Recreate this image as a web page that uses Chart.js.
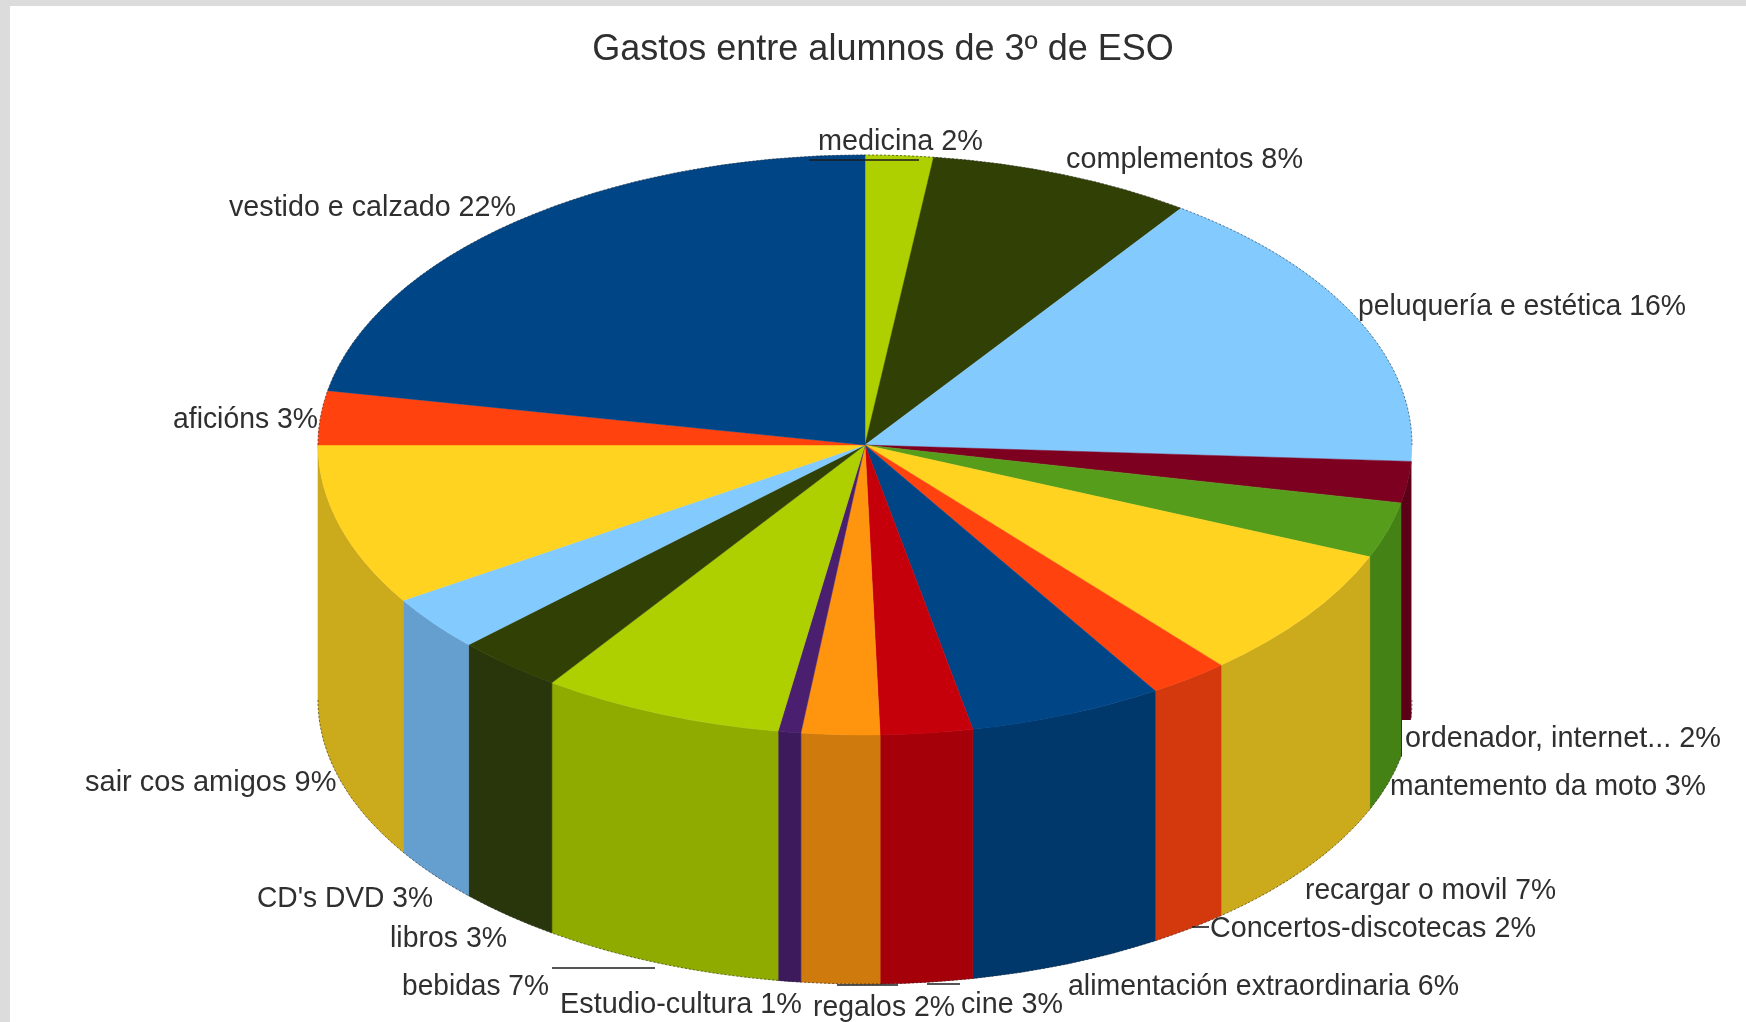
<!DOCTYPE html>
<html><head><meta charset="utf-8">
<style>html,body{margin:0;padding:0;background:#dcdcdc}canvas{display:block}</style>
<script src="https://cdn.jsdelivr.net/npm/chart.js@4"></script>
</head><body>
<div style="width:1746px;height:1022px"><canvas id="c" width="1746" height="1022"></canvas></div>
<script>
const chartTitle = "Gastos entre alumnos de 3º de ESO";
const categories = ["medicina","complementos","peluquería e estética","ordenador, internet...","mantemento da moto","recargar o movil","Concertos-discotecas","alimentación extraordinaria","cine","regalos","Estudio-cultura","bebidas","libros","CD's DVD","sair cos amigos","aficións","vestido e calzado"];
const printedPercent = [2,8,16,2,3,7,2,6,3,2,1,7,3,3,9,3,22];
const shares = [2.0,7.8,16.1,2.3,3.1,7.42,2.38,5.74,2.72,2.31,0.67,7.16,3.2,3.1,9.0,3.0,22.0];
const topColors = ["#aecf00","#314004","#83caff","#7e0021","#579d1c","#ffd320","#ff420e","#004586","#c5000b","#ff950e","#4b1f6f","#aecf00","#314004","#83caff","#ffd320","#ff420e","#004586"];
const wallColors = ["#90ab00","#29350a","#659fd0","#5c0018","#458216","#cbaa1c","#d4390d","#00386b","#a5000a","#cf7a0d","#3d1a5b","#90ab00","#29350a","#659fd0","#cbaa1c","#d4390d","#00386b"];

// layout of the drawing (pixels)
const W = 1746, H = 1022;
const panel = {x:10, y:6};
const pie = {cx:865, cy:445, rx:547, ry:290, wallCy:700, wallRy:284};
// label boxes: x, width, vertical centre, one per category
const labelBoxes = [[818,165,142],[1066,237,160],[1358,328,307],[1405,316,739],[1390,316,787],[1305,251,891],[1210,326,929],[1068,391,987],[961,102,1005],[813,142,1008],[560,242,1005],[402,147,987],[390,117,939],[257,176,899],[85,253,783],[173,145,420],[229,287,208]];
const leaders = [[809,160,919,160],[552,968,655,968],[1192,927,1209,927],[837,985,898,985],[927,984,960,984]];
const FONT = '"Liberation Sans", Arial, sans-serif';

const pie3d = {
  id:'pie3d',
  beforeDraw(chart){
    const g = chart.ctx;
    g.save(); g.fillStyle='#ffffff'; g.fillRect(panel.x,panel.y,W-panel.x,H-panel.y); g.restore();
  },
  beforeDatasetsDraw(chart){
    const g = chart.ctx, arcs = chart.getDatasetMeta(0).data;
    const a0 = arcs[0];
    g.save();
    arcs.forEach((a,i)=>{
      const s = Math.max(a.startAngle,0), e = Math.min(a.endAngle,Math.PI);
      if (e <= s || (Math.cos(s)-Math.cos(e))*pie.rx < 1.5) return;
      g.beginPath();
      g.ellipse(pie.cx,pie.cy,pie.rx,pie.ry,0,s,e);
      g.ellipse(pie.cx,pie.wallCy,pie.rx,pie.wallRy,0,e,s,true);
      g.closePath();
      g.fillStyle = wallColors[i]; g.fill();
      g.strokeStyle = wallColors[i]; g.lineWidth = 0.6; g.stroke();
    });
    g.translate(pie.cx,pie.cy);
    g.scale(pie.rx/a0.outerRadius,pie.ry/a0.outerRadius);
    g.translate(-a0.x,-a0.y);
  },
  afterDatasetsDraw(chart){
    const g = chart.ctx;
    g.restore();
    g.save();
    // thin broken outline along the rim
    g.strokeStyle='rgba(20,20,20,0.55)'; g.lineWidth=1; g.setLineDash([2,2]);
    g.beginPath(); g.ellipse(pie.cx,pie.cy,pie.rx,pie.ry,0,Math.PI,2*Math.PI); g.stroke();
    g.beginPath(); g.ellipse(pie.cx,pie.wallCy,pie.rx,pie.wallRy,0,0,Math.PI); g.stroke();
    g.setLineDash([]);
    g.strokeStyle='#1c1c1c'; g.lineWidth=1.6;
    leaders.forEach(l=>{g.beginPath();g.moveTo(l[0],l[1]);g.lineTo(l[2],l[3]);g.stroke();});
    g.font = '29px '+FONT; g.textBaseline='middle'; g.textAlign='left';
    categories.forEach((c,i)=>{
      const b = labelBoxes[i], t = c+' '+printedPercent[i]+'%';
      if (i===3){ g.fillStyle='#fff'; g.fillRect(b[0]-3,b[2]-19,b[1]+6,36); }
      g.fillStyle='#2f2f2f';
      g.fillText(t,b[0],b[2],b[1]);
    });
    g.restore();
  }
};

new Chart(document.getElementById('c'),{
  type:'pie',
  data:{labels:categories,datasets:[{data:shares,backgroundColor:topColors,borderColor:topColors,borderWidth:0.6,radius:pie.rx}]},
  options:{
    responsive:false,animation:false,
    layout:{padding:{left:20,right:0,top:0,bottom:0}},
    plugins:{
      legend:{display:false},tooltip:{enabled:false},
      title:{display:true,text:chartTitle,color:'#2f2f2f',font:{family:FONT,size:36,weight:'normal'},padding:{top:28,bottom:0}}
    }
  },
  plugins:[pie3d]
});
</script>
</body></html>
